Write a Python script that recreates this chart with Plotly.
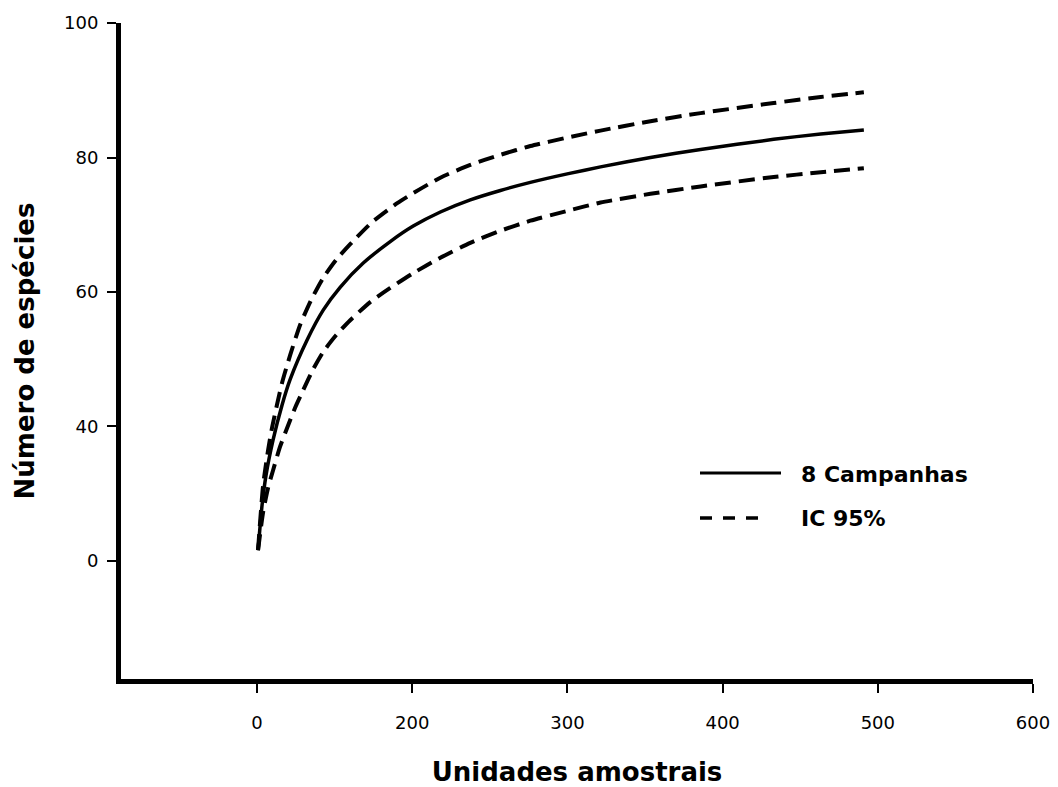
import plotly.graph_objects as go

# Axis coordinates follow the majority of the printed tick labels
x_tickvals = [100, 200, 300, 400, 500, 600]
x_ticktext = ["0", "200", "300", "400", "500", "600"]
y_tickvals = [20, 40, 60, 80, 100]
y_ticktext = ["0", "40", "60", "80", "100"]

# 8 Campanhas (rarefaction curve)
x_mean = [100.6, 103.2, 105.8, 110.3, 116.1, 121.3, 132.3, 142.6, 153.5, 168.4, 185.8, 200.6,
          218.1, 237.4, 256.8, 276.1, 300.6, 321.3, 353.5, 385.8, 432.9, 463.2, 491.0]
y_mean = [21.6, 28.3, 32.8, 38.0, 43.2, 47.0, 52.9, 57.3, 60.7, 64.3, 67.5, 69.8,
          71.9, 73.7, 75.1, 76.3, 77.6, 78.6, 80.0, 81.2, 82.7, 83.5, 84.1]

# IC 95% upper
x_up = [100.6, 103.9, 107.1, 109.7, 116.1, 121.3, 127.7, 134.8, 142.6, 151.0, 160.0, 174.2, 190.3,
        200.6, 218.1, 237.4, 256.8, 276.1, 300.6, 321.3, 353.5, 385.8, 432.9, 463.2, 491.0]
y_up = [21.6, 31.3, 36.5, 39.9, 46.5, 50.6, 55.1, 58.8, 62.1, 64.8, 67.1, 70.4, 73.2,
        74.7, 77.0, 78.9, 80.4, 81.7, 83.0, 84.0, 85.4, 86.6, 88.1, 89.0, 89.7]

# IC 95% lower
x_lo = [100.6, 103.9, 107.1, 110.3, 114.8, 119.4, 124.5, 129.7, 136.1, 142.6, 151.0, 160.0, 172.9,
        185.8, 200.6, 218.1, 237.4, 256.8, 276.1, 300.6, 321.3, 353.5, 385.8, 432.9, 463.2, 491.0]
y_lo = [21.6, 27.3, 30.9, 33.5, 37.0, 39.8, 42.8, 45.4, 48.5, 51.1, 53.6, 55.8, 58.5,
        60.6, 62.8, 65.1, 67.3, 69.1, 70.6, 72.1, 73.3, 74.6, 75.7, 77.1, 77.8, 78.4]

TICKFONT = "DejaVu Sans, Arial, sans-serif"
TITLEFONT = "DejaVu Sans, Arial, sans-serif"

fig = go.Figure()
fig.add_trace(go.Scatter(x=x_mean, y=y_mean, mode="lines", name="8 Campanhas",
                         line=dict(color="black", width=3.5, shape="spline", smoothing=0.6),
                         showlegend=False))
fig.add_trace(go.Scatter(x=x_up, y=y_up, mode="lines", name="IC 95%",
                         line=dict(color="black", width=4, dash="16px,8px", shape="spline", smoothing=0.6),
                         showlegend=False))
fig.add_trace(go.Scatter(x=x_lo, y=y_lo, mode="lines", name="IC 95% (inf.)",
                         line=dict(color="black", width=4, dash="16px,8px", shape="spline", smoothing=0.6),
                         showlegend=False))

# Legend drawn as shapes + text (long line samples as in the reference)
W, H = 1058, 787
ml, mr, mt, mb = 121, 25, 23, 108
pw, ph = W - ml - mr, H - mt - mb


def px(xp):
    return (xp - ml) / pw


def py(yp):
    return 1 - (yp - mt) / ph


fig.add_shape(type="line", xref="paper", yref="paper",
              x0=px(700), x1=px(781), y0=py(473), y1=py(473),
              line=dict(color="black", width=3))
fig.add_shape(type="line", xref="paper", yref="paper",
              x0=px(700), x1=px(765), y0=py(518), y1=py(518),
              line=dict(color="black", width=3.5, dash="12px,11px"))
fig.add_annotation(xref="paper", yref="paper", x=px(799), y=py(474), xanchor="left", yanchor="middle",
                   text="<b>8 Campanhas</b>", showarrow=False,
                   font=dict(family=TITLEFONT, size=22, color="black"))
fig.add_annotation(xref="paper", yref="paper", x=px(799), y=py(518), xanchor="left", yanchor="middle",
                   text="<b>IC 95%</b>", showarrow=False,
                   font=dict(family=TITLEFONT, size=22, color="black"))

fig.update_layout(
    width=W, height=H,
    margin=dict(l=ml, r=mr, t=mt, b=mb),
    paper_bgcolor="white", plot_bgcolor="white",
    font=dict(family=TICKFONT, color="black"),
    xaxis=dict(range=[12.3, 600], tickvals=x_tickvals, ticktext=x_ticktext, automargin=False,
               showline=True, linewidth=5, linecolor="black", showgrid=False, zeroline=False,
               ticks="outside", ticklen=9, tickwidth=2, tickcolor="black",
               ticklabelstandoff=14,
               tickfont=dict(family=TICKFONT, size=18, color="black"),
               title=dict(text="<b>Unidades amostrais</b>", standoff=42,
                          font=dict(family=TITLEFONT, size=26, color="black"))),
    yaxis=dict(range=[2.45, 100], tickvals=y_tickvals, ticktext=y_ticktext, automargin=False,
               showline=True, linewidth=5, linecolor="black", showgrid=False, zeroline=False,
               ticks="outside", ticklen=9, tickwidth=2, tickcolor="black",
               ticklabelstandoff=5,
               tickfont=dict(family=TICKFONT, size=18, color="black"),
               title=dict(text="<b>Número de espécies</b>", standoff=23,
                          font=dict(family=TITLEFONT, size=26, color="black"))),
)

fig.write_html("out.html")
